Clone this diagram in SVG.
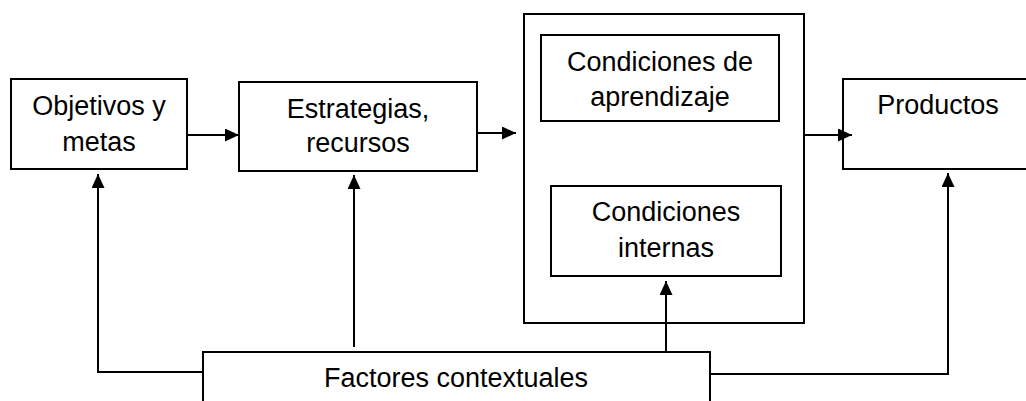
<svg xmlns="http://www.w3.org/2000/svg" width="1026" height="401" viewBox="0 0 1026 401">
<style>
.box{fill:#fff;stroke:#000;stroke-width:2}
.lbl{font-family:"Liberation Sans",Arial,sans-serif;font-size:27px;fill:#000;text-anchor:middle}
.con{fill:none;stroke:#000;stroke-width:2}
</style>
<defs>
<marker id="ah" markerUnits="userSpaceOnUse" markerWidth="14" markerHeight="13" viewBox="0 0 14 13" refX="14" refY="6.5" orient="auto">
<path d="M0,0 L14,6.5 L0,13 Z" fill="#000"/>
</marker>
</defs>
<rect width="1026" height="401" fill="#fff"/>
<g id="objetivos">
<rect class="box" x="11" y="79" width="176" height="90"/>
<text class="lbl" x="99" y="115">Objetivos y</text>
<text class="lbl" x="99" y="151">metas</text>
</g>
<g id="estrategias">
<rect class="box" x="239" y="82" width="238" height="89"/>
<text class="lbl" x="358" y="118">Estrategias,</text>
<text class="lbl" x="358" y="152">recursos</text>
</g>
<g id="proceso">
<rect class="box" x="524" y="14" width="280" height="309"/>
</g>
<g id="condiciones-aprendizaje">
<rect class="box" x="541" y="35" width="238" height="86"/>
<text class="lbl" x="660" y="71">Condiciones de</text>
<text class="lbl" x="660" y="106">aprendizaje</text>
</g>
<g id="condiciones-internas">
<rect class="box" x="551" y="186" width="230" height="90"/>
<text class="lbl" x="666" y="221">Condiciones</text>
<text class="lbl" x="666" y="257">internas</text>
</g>
<g id="productos">
<rect class="box" x="843" y="79" width="192" height="90"/>
<text class="lbl" x="938" y="114">Productos</text>
</g>
<g id="factores">
<rect class="box" x="203" y="352" width="507" height="60"/>
<text class="lbl" x="456" y="387">Factores contextuales</text>
</g>
<g id="connectors">
<line class="con" x1="187" y1="135" x2="239" y2="135" marker-end="url(#ah)"/>
<line class="con" x1="477" y1="133" x2="516" y2="133" marker-end="url(#ah)"/>
<line class="con" x1="804" y1="135" x2="852" y2="135" marker-end="url(#ah)"/>
<polyline class="con" points="203,372 98,372 98,174" marker-end="url(#ah)"/>
<line class="con" x1="354" y1="347" x2="354" y2="175" marker-end="url(#ah)"/>
<line class="con" x1="666" y1="352" x2="666" y2="281" marker-end="url(#ah)"/>
<polyline class="con" points="710,374 948,374 948,173" marker-end="url(#ah)"/>
</g>
</svg>
